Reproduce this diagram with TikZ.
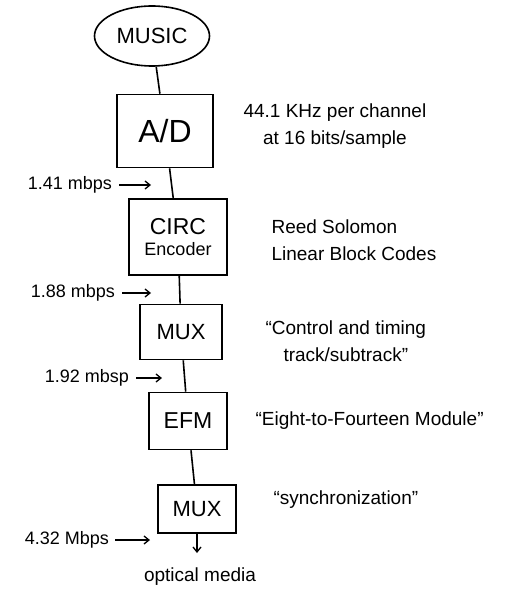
\documentclass[tikz,border=0pt]{standalone}
\usepackage{fontspec}
\setmainfont{Liberation Sans}
\usepackage{tikz}
\usetikzlibrary{arrows.meta,shapes.geometric}
\tikzset{
  blk/.style={draw, line width=1.6pt, align=center, inner sep=2pt},
  oval/.style={draw, ellipse, line width=1.6pt, minimum width=115pt, minimum height=60pt, font=\fontsize{22}{24}\selectfont},
  arr/.style={-{Straight Barb[length=5pt,width=8pt]}, line width=1.3pt},
  lnk/.style={line width=1.6pt},
  note/.style={align=left, anchor=west, font=\fontsize{19}{27}\selectfont},
  rate/.style={anchor=east, font=\fontsize{18}{20}\selectfont, inner sep=1pt}
}
\newcommand{\fs}[1]{\fontsize{#1}{#1}\selectfont}

\begin{document}
\begin{tikzpicture}[x=1pt, y=-1pt]
  \useasboundingbox (0,0) rectangle (510,593);
  % chain of blocks
  \node[oval] (music) at (152,36) {MUSIC};
  \node[blk, minimum width=96pt, minimum height=73pt, font=\fs{32}] (ad) at (165,131) {A/D};
  \node[blk, minimum width=98pt, minimum height=76pt] (circ) at (178,237) {{\fs{23}CIRC}\\[6pt]{\fs{18}Encoder}};
  \node[blk, minimum width=82pt, minimum height=55pt, font=\fs{22}] (muxa) at (181,332) {MUX};
  \node[blk, minimum width=78pt, minimum height=57pt, font=\fs{23}] (efm) at (188,421) {EFM};
  \node[blk, minimum width=78pt, minimum height=48pt, font=\fs{22}] (muxb) at (197,509) {MUX};
  \node[font=\fs{19}] (media) at (200,577) {optical media};
  \coordinate (out) at (197,553);
  \draw[lnk] (music) -- (ad);
  \draw[lnk] (ad) -- (circ);
  \draw[lnk] (circ) -- (muxa);
  \draw[lnk] (muxa) -- (efm);
  \draw[lnk] (efm) -- (muxb);
  \draw[arr] (muxb) -- (out);
  % notes on the right
  \node[note, align=center] (nad) at (240,126) {44.1 KHz per channel\\at 16 bits/sample};
  \node[note] (ncirc) at (268,240) {Reed Solomon\\Linear Block Codes};
  \node[note, align=center] (nmuxa) at (262,341) {``Control and timing\\track/subtrack''};
  \node[note] (nefm) at (252,421) {``Eight-to-Fourteen Module''};
  \node[note] (nmuxb) at (270,500) {``synchronization''};
  % bit rates
  \node[rate] (ra) at (113,185) {1.41 mbps};
  \node[rate] (rb) at (116,293) {1.88 mbps};
  \node[rate] (rc) at (130,378) {1.92 mbsp};
  \node[rate] (rd) at (110,540) {4.32 Mbps};
  \coordinate (ea) at (151,185);
  \coordinate (eb) at (151,293);
  \coordinate (ec) at (162,378);
  \coordinate (ed) at (150,540);
  \draw[arr, shorten <=6pt] (ra) -- (ea);
  \draw[arr, shorten <=6pt] (rb) -- (eb);
  \draw[arr, shorten <=6pt] (rc) -- (ec);
  \draw[arr, shorten <=5pt] (rd) -- (ed);
\end{tikzpicture}
\end{document}
